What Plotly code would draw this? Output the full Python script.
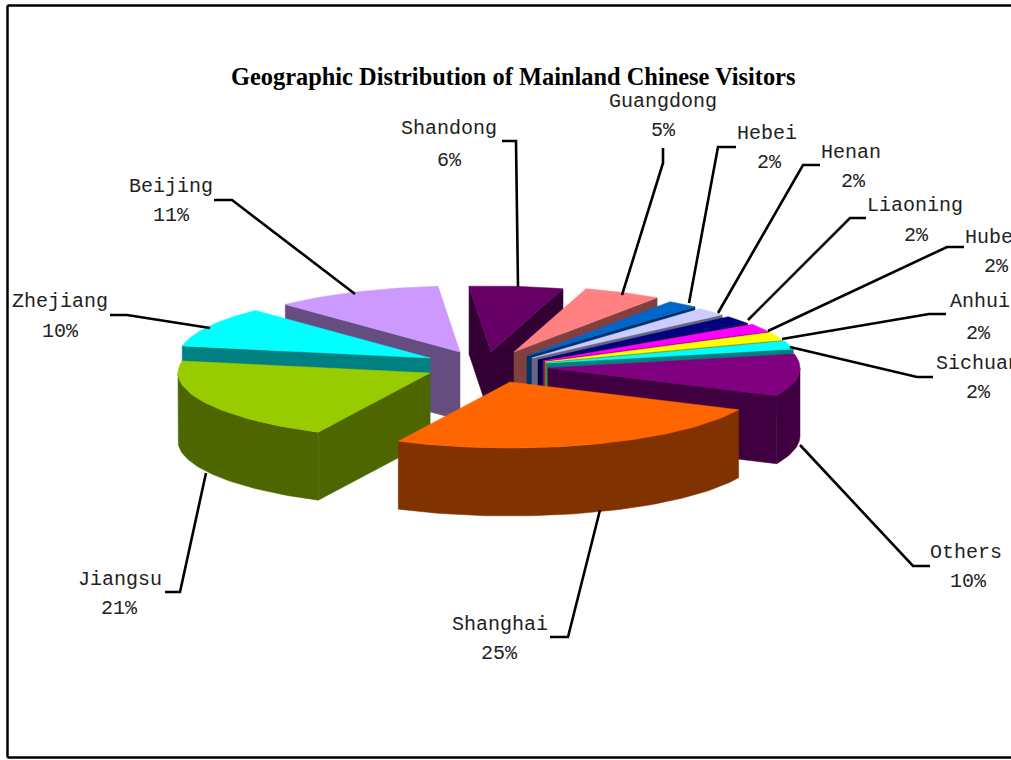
import math
import plotly.graph_objects as go

# ---- data (labels show the rounded percentages) ----
categories = ["Shandong", "Guangdong", "Hebei", "Henan", "Liaoning", "Hubei", "Anhui",
              "Sichuan", "Others", "Shanghai", "Jiangsu", "Zhejiang", "Beijing"]
values = [6, 5, 2, 2, 2, 2, 2, 2, 10.3, 25.4, 20.6, 9.9, 10.8]
title_text = "Geographic Distribution of Mainland Chinese Visitors"

# ---- styling ----
top_colors = ["#660066", "#FF8080", "#0066CC", "#CCCCFF", "#000080", "#FF00FF", "#FFFF00",
              "#00FFFF", "#800080", "#FF6600", "#99CC00", "#00FFFF", "#CC99FF"]
wall_colors = ["#330033", "#804040", "#003366", "#666680", "#000040", "#800080", "#808000",
               "#008080", "#400040", "#803300", "#4D6600", "#008080", "#664D80"]
# exploded slice tips, in chart units
tips = [(491, 352), (514, 352), (527, 356), (532, 358), (538, 360), (543, 361), (545, 362),
        (547, 363), (548, 368), (510, 382), (430, 373), (430, 358), (460, 352)]
paint_order = [12, 0, 1, 2, 3, 4, 5, 6, 7, 8, 11, 10, 9]
A, B, DEPTH, START = 252, 66, 68, -5.0

name_pos = [(449, 128), (663, 101), (767, 133), (851, 152), (915, 205), (995, 237), (980, 301),
            (978, 363), (966, 552), (500, 624), (120, 579), (60, 301), (171, 186)]
pct_pos = [(449, 160), (663, 130), (769, 162), (853, 181), (916, 235), (996, 266), (978, 333),
           (978, 392), (968, 581), (499, 653), (119, 608), (60, 331), (171, 215)]
leaders = [[(502, 141), (516, 141), (518, 287)],
           [(663, 148), (663, 163), (622, 295)],
           [(736, 147), (718, 147), (689, 303)],
           [(820, 165), (803, 165), (718, 313)],
           [(866, 218), (850, 218), (748, 320)],
           [(964, 247), (947, 247), (768, 331)],
           [(946, 314), (929, 314), (782, 339)],
           [(933, 377), (917, 377), (790, 347)],
           [(930, 566), (913, 566), (800, 445)],
           [(550, 637), (568, 637), (600, 510)],
           [(165, 592), (180, 592), (206, 473)],
           [(110, 315), (127, 315), (210, 328)],
           [(214, 200), (232, 200), (355, 294)]]

total = sum(values)
angles = [START]
for v in values:
    angles.append(angles[-1] + v / total * 360)


def rim(tip, deg, dz=0):
    r = math.radians(deg)
    return tip[0] + A * math.sin(r), tip[1] - B * math.cos(r) + dz


def arc(tip, a0, a1, dz=0):
    n = max(2, int(abs(a1 - a0) / 1.5) + 1)
    return [rim(tip, a0 + (a1 - a0) * k / n, dz) for k in range(n + 1)]


def poly(fig, pts, color):
    fig.add_trace(go.Scatter(x=[p[0] for p in pts] + [pts[0][0]],
                             y=[p[1] for p in pts] + [pts[0][1]],
                             mode="lines", fill="toself", fillcolor=color,
                             line=dict(width=0.5, color=color),
                             hoverinfo="skip", showlegend=False))


fig = go.Figure()
for i in paint_order:
    a0, a1 = angles[i], angles[i + 1]
    tip = tips[i]
    wall, top = wall_colors[i], top_colors[i]
    c = (tip[0], tip[1])
    c_low = (tip[0], tip[1] + DEPTH)
    # radial wall at the start edge: faces the viewer when the edge is on the left half
    if math.sin(math.radians(a0)) < 0:
        poly(fig, [c, rim(tip, a0), rim(tip, a0, DEPTH), c_low], wall)
    # radial wall at the end edge: faces the viewer when the edge is on the right half
    if math.sin(math.radians(a1)) > 0:
        poly(fig, [c, rim(tip, a1), rim(tip, a1, DEPTH), c_low], wall)
    # curved outer wall: only the near half of the rim (90..270 degrees)
    lo = max(a0, 90)
    hi = min(a1, 270)
    if hi > lo:
        poly(fig, arc(tip, lo, hi) + arc(tip, hi, lo, DEPTH), wall)
    poly(fig, [c] + arc(tip, a0, a1), top)

for path in leaders:
    fig.add_trace(go.Scatter(x=[p[0] for p in path], y=[p[1] for p in path], mode="lines",
                             line=dict(color="black", width=2.6), hoverinfo="skip",
                             showlegend=False))

annotations = [dict(x=513, y=76, text="<b>" + title_text + "</b>", showarrow=False,
                    xanchor="center", yanchor="middle",
                    font=dict(family="Liberation Serif", size=24.4, color="black"),
                    xref="x", yref="y")]
label_font = dict(family="Liberation Mono", size=20, color="#222222")
for name, v, np_, pp in zip(categories, values, name_pos, pct_pos):
    annotations.append(dict(x=np_[0], y=np_[1], text=name, showarrow=False, font=label_font,
                            xanchor="center", yanchor="middle", xref="x", yref="y"))
    annotations.append(dict(x=pp[0], y=pp[1], text=f"{round(v)}%", showarrow=False, font=label_font,
                            xanchor="center", yanchor="middle", xref="x", yref="y"))

line = dict(color="black", width=2.5)
shapes = [dict(type="line", xref="x", yref="y", x0=7.5, y0=5.5, x1=1011, y1=5.5, line=line),
          dict(type="line", xref="x", yref="y", x0=7.5, y0=5.5, x1=7.5, y1=757.5, line=line),
          dict(type="line", xref="x", yref="y", x0=7.5, y0=757.5, x1=1011, y1=757.5, line=line)]

fig.update_layout(width=1011, height=760, margin=dict(l=0, r=0, t=0, b=0),
                  paper_bgcolor="white", plot_bgcolor="white", showlegend=False,
                  annotations=annotations, shapes=shapes,
                  xaxis=dict(range=[0, 1011], visible=False, fixedrange=True),
                  yaxis=dict(range=[760, 0], visible=False, fixedrange=True))
fig.write_html("out.html", config=dict(displayModeBar=False),
               post_script="document.body.style.margin='0';document.body.style.overflow='hidden';")
